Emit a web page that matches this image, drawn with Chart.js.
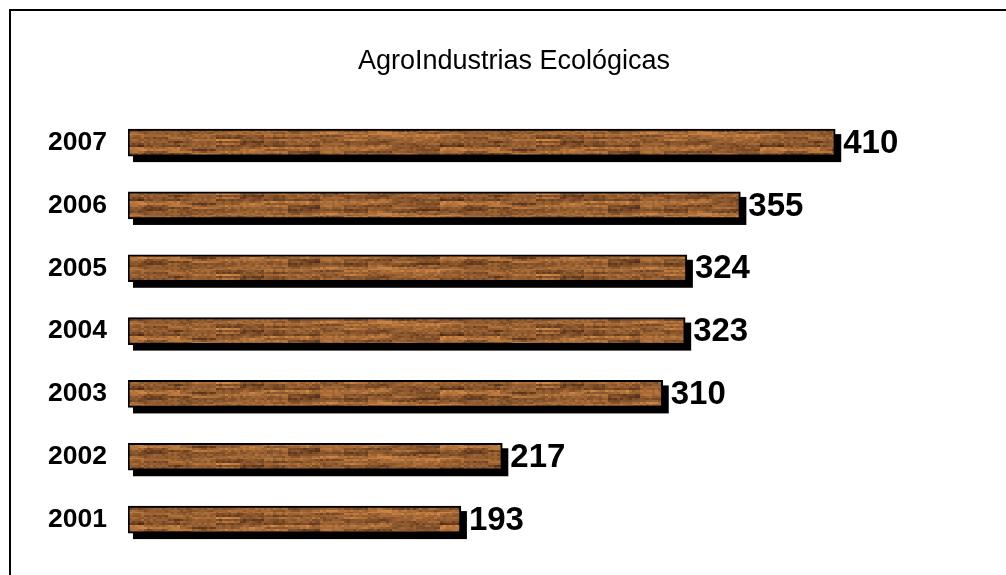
<!DOCTYPE html>
<html>
<head>
<meta charset="utf-8">
<script src="https://cdn.jsdelivr.net/npm/chart.js@4/dist/chart.umd.min.js"></script>
<style>
  html, body { margin: 0; padding: 0; background: #fff; overflow: hidden; }
  #frame { position: absolute; left: 9px; top: 9px; width: 1100px; height: 700px; border: 2px solid #000; }
  #wrap { position: absolute; left: 0; top: 0; width: 1006px; height: 575px; }
</style>
</head>
<body>
<div id="frame"></div>
<div id="wrap"><canvas id="c" width="1006" height="575"></canvas></div>
<script>
const chartTitle = 'AgroIndustrias Ecológicas';
const years = ['2007', '2006', '2005', '2004', '2003', '2002', '2001'];
const counts = [410, 355, 324, 323, 310, 217, 193];

const FONT = 'Arial, "Liberation Sans", Helvetica, sans-serif';

// deterministic wood-like texture
function woodPattern() {
  const w = 320, h = 27;
  const cv = document.createElement('canvas');
  cv.width = w; cv.height = h;
  const g = cv.getContext('2d');
  function hash(a, b) {
    let n = a * 374761393 + b * 668265263;
    n = (n ^ (n >>> 13)) * 1274126177;
    n = n ^ (n >>> 16);
    return ((n >>> 0) % 1000) / 1000;
  }
  for (let y = 0; y < h; y += 2) {
    const band = Math.sin(y * 0.6) * 0.5 + Math.sin(y * 1.7 + 1) * 0.3;
    for (let x = 0; x < w; x += 3) {
      const n = hash(Math.floor(x / 3), Math.floor(y / 2));
      const n2 = hash(Math.floor(x / 24), Math.floor(y / 2) + 50);
      const n3 = hash(Math.floor(x / 60), Math.floor(y / 4) + 90);
      const t = 0.5 + band * 0.2 + (n - 0.5) * 0.32 + (n2 - 0.5) * 0.5 + (n3 - 0.5) * 0.3;
      const r = Math.round(85 + t * 120);
      const gg = Math.round(48 + t * 86);
      const b = Math.round(24 + t * 46);
      g.fillStyle = `rgb(${r},${gg},${b})`;
      g.fillRect(x, y, 3, 2);
    }
  }
  return g.createPattern(cv, 'repeat');
}

const shadowPlugin = {
  id: 'barShadow',
  beforeDatasetsDraw(chart) {
    const ctx = chart.ctx;
    const meta = chart.getDatasetMeta(0);
    ctx.save();
    ctx.fillStyle = '#000';
    meta.data.forEach(el => {
      const p = el.getProps(['x', 'y', 'base', 'height'], true);
      const x0 = Math.min(p.base, p.x), x1 = Math.max(p.base, p.x);
      ctx.fillRect(x0 + 5, p.y - p.height / 2 + 5, x1 - x0 + 1, p.height + 1);
    });
    ctx.restore();
  },
  afterDatasetsDraw(chart) {
    const ctx = chart.ctx;
    const meta = chart.getDatasetMeta(0);
    const ds = chart.data.datasets[0];
    ctx.save();
    ctx.fillStyle = '#000';
    ctx.font = 'bold 33px ' + FONT;
    ctx.textAlign = 'left';
    ctx.textBaseline = 'middle';
    meta.data.forEach((el, i) => {
      const p = el.getProps(['x', 'y'], true);
      ctx.fillText(String(ds.data[i]), p.x + 8, p.y + 1);
    });
    ctx.restore();
  }
};

new Chart(document.getElementById('c'), {
  type: 'bar',
  data: {
    labels: years,
    datasets: [{
      data: counts,
      backgroundColor: woodPattern(),
      borderColor: '#000',
      borderWidth: 2,
      borderSkipped: false,
      barThickness: 27
    }]
  },
  options: {
    indexAxis: 'y',
    responsive: false,
    animation: false,
    events: [],
    layout: { padding: { top: 40.5, bottom: 24, left: 22, right: 0 } },
    plugins: {
      legend: { display: false },
      tooltip: { enabled: false },
      title: {
        display: true,
        text: chartTitle,
        color: '#000',
        font: { family: FONT, size: 27, weight: 'normal', lineHeight: 1.2 },
        padding: { top: 4.4, bottom: 33.9 }
      }
    },
    scales: {
      x: { display: false, min: 0, max: 509 },
      y: {
        afterFit(scale) { scale.width = 106; scale.paddingTop = 0; scale.paddingBottom = 0; },
        grid: { display: false, drawTicks: false },
        border: { display: false },
        ticks: {
          color: '#000',
          padding: 21,
          font: { family: FONT, size: 26.5, weight: 'bold' }
        }
      }
    }
  },
  plugins: [shadowPlugin]
});
</script>
</body>
</html>
